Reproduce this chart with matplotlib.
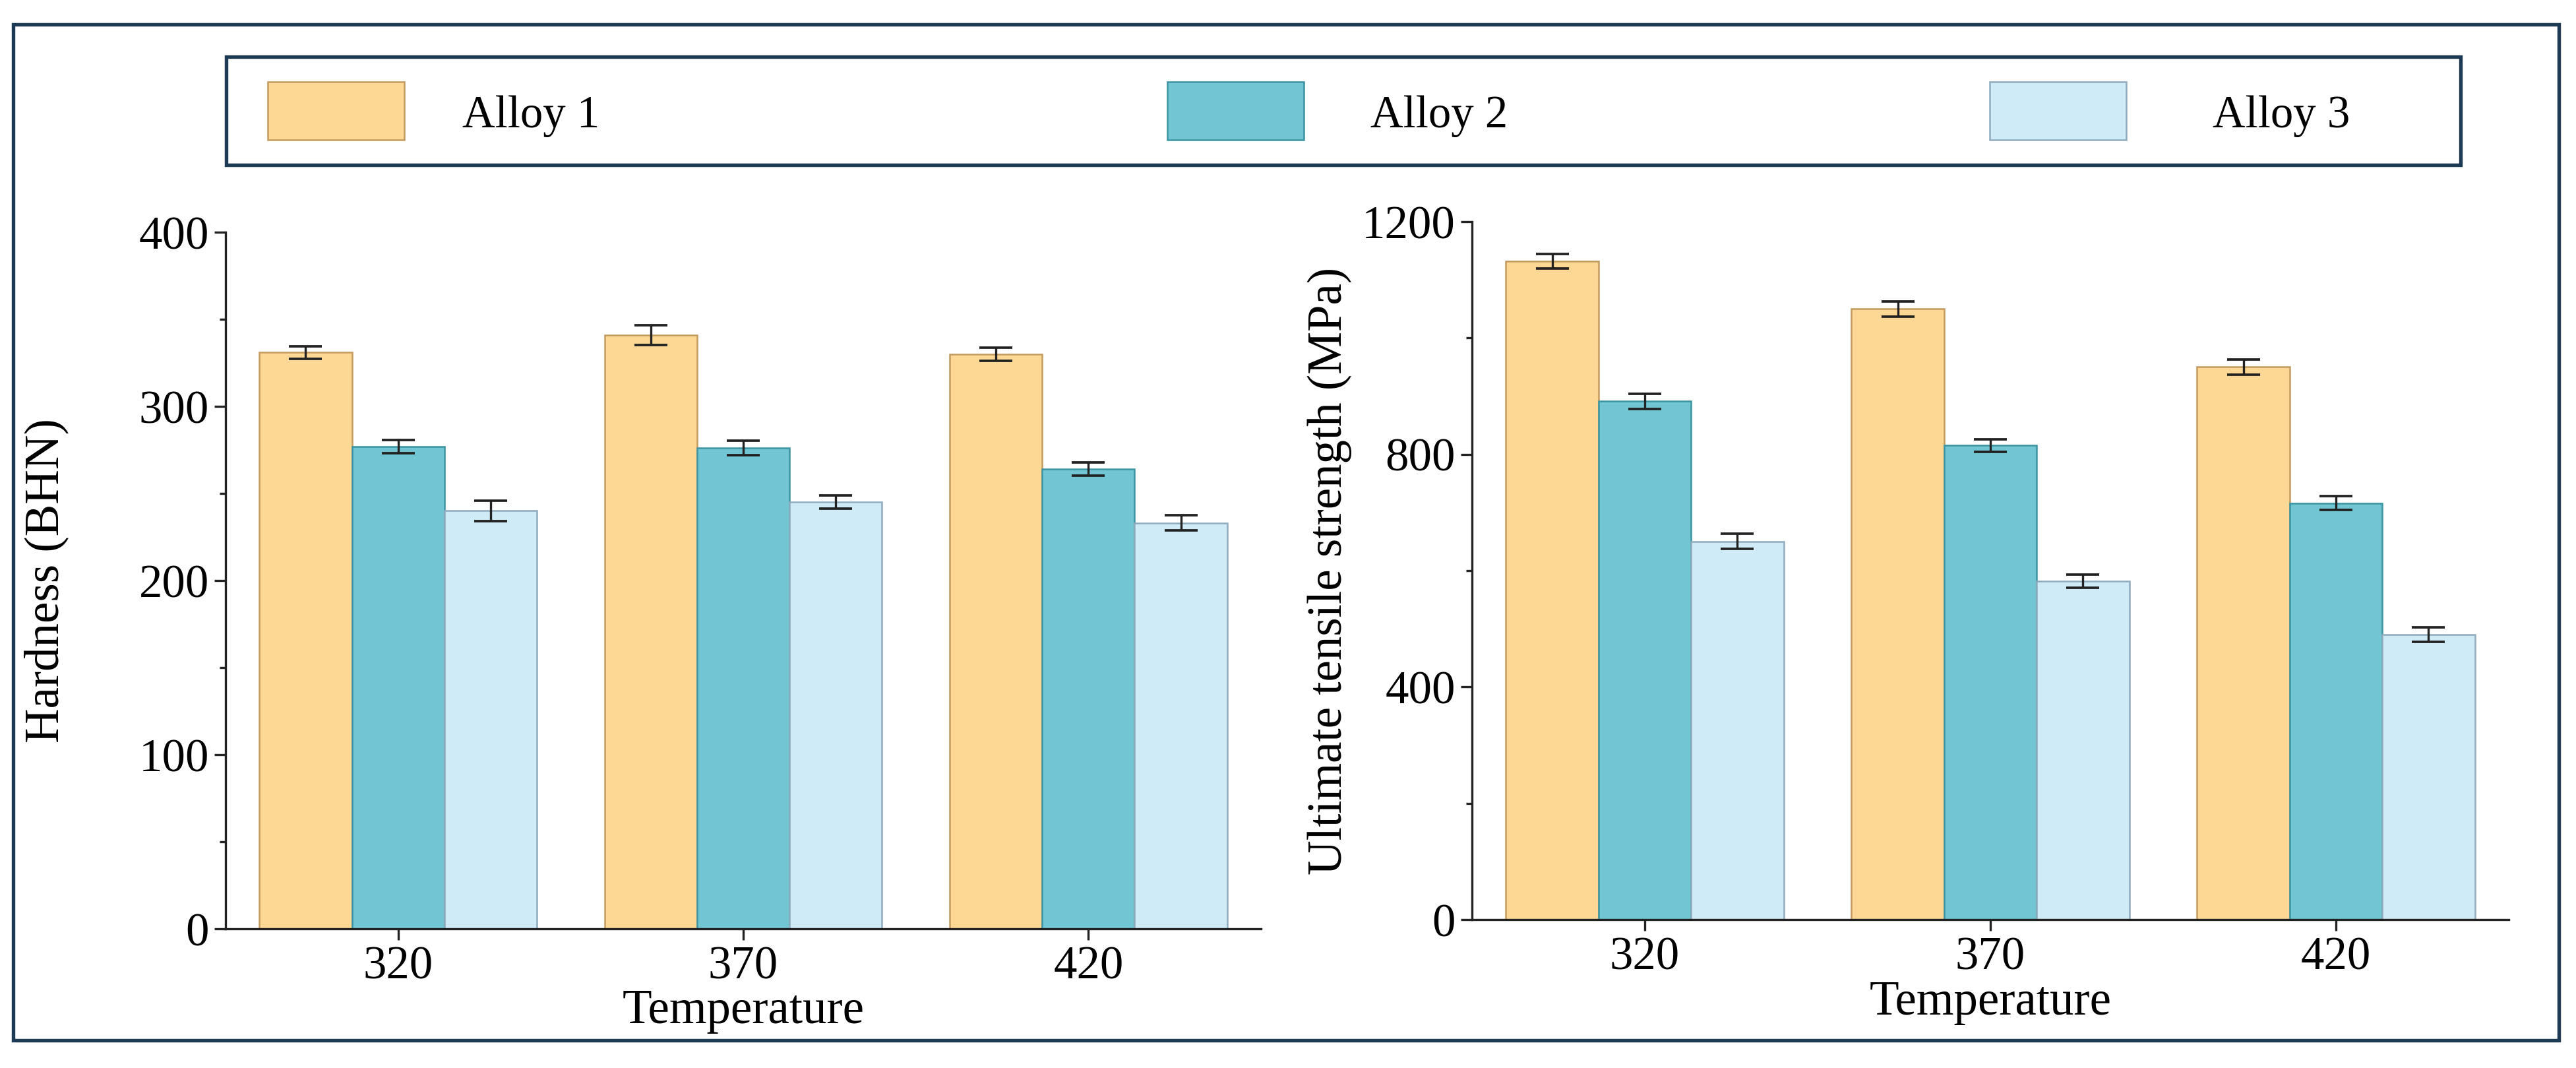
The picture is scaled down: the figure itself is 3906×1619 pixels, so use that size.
import numpy as np
import matplotlib
matplotlib.use('Agg')
import matplotlib.pyplot as plt
from matplotlib.patches import Rectangle
from matplotlib.ticker import MultipleLocator

# figure size in pixels (saved at 300 dpi)
W, H = 3906, 1619
DPI = 300

temperatures = ['320', '370', '420']
alloys = ['Alloy 1', 'Alloy 2', 'Alloy 3']

# hardness (BHN) and error half-widths
hardness_alloy1 = [331, 341, 330]
hardness_alloy2 = [277, 276, 264]
hardness_alloy3 = [240, 245, 233]
hardness_err1 = [3.6, 5.6, 3.7]
hardness_err2 = [3.8, 4.2, 3.8]
hardness_err3 = [5.8, 3.8, 4.4]

# ultimate tensile strength (MPa) and error half-widths
uts_alloy1 = [1132, 1050, 950]
uts_alloy2 = [891, 815, 716]
uts_alloy3 = [650, 582, 490]
uts_err1 = [12, 13, 13]
uts_err2 = [13, 11, 12]
uts_err3 = [13, 11, 12]

FACE = ['#FCD894', '#72C6D4', '#CEEBF7']
EDGE = ['#C49A5E', '#3B94A3', '#8FABBD']
FRAME = '#1D3A55'
BAR_W = 0.268

plt.rcParams['font.family'] = ['Liberation Serif', 'DejaVu Serif']


def fig_rect(x0, y0, x1, y1):
    """pixel box (top-left origin) -> figure fraction [l, b, w, h]"""
    return [x0 / W, 1 - y1 / H, (x1 - x0) / W, (y1 - y0) / H]


def draw_panel(ax, series, errors, ylabel, ymax, major, minor, ylab_x):
    x = np.arange(len(temperatures))
    for i, (vals, errs) in enumerate(zip(series, errors)):
        ax.bar(x + (i - 1) * BAR_W, vals, BAR_W, color=FACE[i],
               edgecolor=EDGE[i], linewidth=0.6, zorder=2)
        ax.errorbar(x + (i - 1) * BAR_W, vals, yerr=errs, fmt='none',
                    ecolor='#222222', elinewidth=0.8, capsize=6,
                    capthick=0.9, zorder=3)
    ax.set_xlim(-0.5, 2.5)
    ax.set_ylim(0, ymax)
    ax.set_xticks(x)
    ax.set_xticklabels(temperatures)
    ax.yaxis.set_major_locator(MultipleLocator(major))
    ax.yaxis.set_minor_locator(MultipleLocator(minor))
    for s in ['top', 'right']:
        ax.spines[s].set_visible(False)
    for s in ['left', 'bottom']:
        ax.spines[s].set_linewidth(0.8)
        ax.spines[s].set_color('#222222')
    ax.tick_params(axis='both', which='major', direction='out', length=4,
                   width=0.8, labelsize=17, pad=2, color='#222222')
    ax.tick_params(axis='y', which='minor', direction='out', length=2.2,
                   width=0.8, color='#222222')
    ax.set_ylabel(ylabel, fontsize=17.5, va='center')
    ax.yaxis.set_label_coords(ylab_x, 0.5)
    ax.set_xlabel('Temperature', fontsize=17.5, va='center')
    ax.xaxis.set_label_coords(0.5, -0.119)


fig = plt.figure(figsize=(W / DPI, H / DPI), dpi=DPI)

ax1 = fig.add_axes(fig_rect(342, 352, 1912, 1408))
draw_panel(ax1, [hardness_alloy1, hardness_alloy2, hardness_alloy3],
           [hardness_err1, hardness_err2, hardness_err3],
           'Hardness (BHN)', 400, 100, 50, -0.173)

ax2 = fig.add_axes(fig_rect(2232, 336, 3804, 1394))
draw_panel(ax2, [uts_alloy1, uts_alloy2, uts_alloy3],
           [uts_err1, uts_err2, uts_err3],
           'Ultimate tensile strength (MPa)', 1200, 400, 200, -0.137)

# outer frame and legend box
for box in [(20, 37, 3880, 1577), (343, 86, 3731, 250)]:
    r = fig_rect(*box)
    fig.add_artist(Rectangle(r[:2], *r[2:], transform=fig.transFigure,
                             fill=False, edgecolor=FRAME, linewidth=1.3))

# legend entries, laid out like the original
patch_x = [406, 1770, 3017]
text_x = [701, 2078, 3355]
for i, name in enumerate(alloys):
    r = fig_rect(patch_x[i], 124, patch_x[i] + 207, 212)
    fig.add_artist(Rectangle(r[:2], *r[2:], transform=fig.transFigure,
                             facecolor=FACE[i], edgecolor=EDGE[i],
                             linewidth=0.6))
    fig.text(text_x[i] / W, 1 - 176 / H, name, fontsize=16.5,
             va='center', ha='left')

fig.savefig('out.png', dpi=DPI, facecolor='white')
